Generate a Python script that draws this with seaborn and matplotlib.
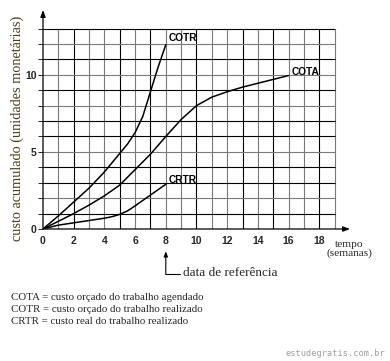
import matplotlib
matplotlib.use("Agg")
import matplotlib.pyplot as plt
import seaborn as sns
import pandas as pd

# ---- data ----
cota_weeks = [0, 1, 2, 3, 4, 5, 6, 7, 8, 9, 10, 11, 12, 13, 14, 15, 16]
cota_cost = [0, 0.5, 1.0, 1.55, 2.15, 2.85, 3.85, 4.85, 6.0, 7.1, 8.0, 8.55, 8.9, 9.2, 9.45, 9.7, 9.95]
cotr_weeks = [0, 1, 2, 3, 4, 5, 5.5, 6, 6.5, 7, 7.5, 8]
cotr_cost = [0, 0.85, 1.75, 2.65, 3.7, 4.9, 5.5, 6.25, 7.3, 8.9, 10.5, 11.95]
crtr_weeks = [0, 1, 2, 3, 4, 4.5, 5, 5.5, 6, 7, 8]
crtr_cost = [0, 0.25, 0.4, 0.55, 0.7, 0.8, 0.95, 1.17, 1.5, 2.2, 2.9]
x_ticks = [0, 2, 4, 6, 8, 10, 12, 14, 16, 18]
y_ticks = [0, 5, 10]
ref_week = 8
legend_lines = ["COTA = custo orçado do trabalho agendado",
                "COTR = custo orçado do trabalho realizado",
                "CRTR = custo real do trabalho realizado"]

df = pd.concat([
    pd.DataFrame({"semana": cota_weeks, "custo": cota_cost, "serie": "COTA"}),
    pd.DataFrame({"semana": cotr_weeks, "custo": cotr_cost, "serie": "COTR"}),
    pd.DataFrame({"semana": crtr_weeks, "custo": crtr_cost, "serie": "CRTR"}),
], ignore_index=True)

sns.set_style("white")
plt.rcParams["font.family"] = ["Liberation Sans", "DejaVu Sans"]

W, H = 390, 361
fig = plt.figure(figsize=(W / 100, H / 100), dpi=100)
# data x 0..20 -> px 43..350 ; data y 0..14.2 -> px 229..10
ax = fig.add_axes([43 / W, (H - 229) / H, 307 / W, 219 / H])
ax.set_xlim(0, 20)
ax.set_ylim(0, 14.2)
for s in ax.spines.values():
    s.set_visible(False)

black_x = {2, 5, 7, 10, 13, 15, 18}
black_y = {1, 3, 4, 6, 7, 9, 11, 13}
for gx in range(1, 20):
    ax.plot([gx, gx], [0, 13], color="black" if gx in black_x else "#7a7a7a",
            lw=0.8, zorder=1, solid_capstyle="butt")
for gy in range(1, 14):
    ax.plot([0, 19], [gy, gy], color="black" if gy in black_y else "#7a7a7a",
            lw=0.8, zorder=1, solid_capstyle="butt")

# axes with arrows
ax.annotate("", xy=(20, 0), xytext=(0, 0),
            arrowprops=dict(arrowstyle="-|>,head_length=0.4,head_width=0.15", color="black", lw=0.9,
                            shrinkA=0, shrinkB=0), annotation_clip=False)
ax.annotate("", xy=(0, 14.2), xytext=(0, 0),
            arrowprops=dict(arrowstyle="-|>,head_length=0.4,head_width=0.15", color="black", lw=0.9,
                            shrinkA=0, shrinkB=0), annotation_clip=False)

sns.lineplot(data=df, x="semana", y="custo", hue="serie", sort=False,
             palette={"COTA": "black", "COTR": "black", "CRTR": "black"},
             linewidth=1.1, legend=False, ax=ax, zorder=3)

ax.set_xlabel("")
ax.set_ylabel("")
ax.set_xticks(x_ticks)
ax.set_xticklabels([str(v) for v in x_ticks], fontsize=7.5, fontweight="bold")
ax.set_yticks(y_ticks)
ax.set_yticklabels([str(v) for v in y_ticks], fontsize=7.5, fontweight="bold")
ax.set_yticks(range(0, 14), minor=True)
ax.tick_params(axis="x", length=0, pad=5)
ax.tick_params(axis="y", which="both", length=3.5, width=0.7, direction="out", pad=1, left=True)

# curve labels
lab_kw = dict(fontsize=7.3, fontweight="bold", color="black", va="center", ha="left")
ax.text(8.2, 12.4, "COTR", **lab_kw)
ax.text(16.2, 10.2, "COTA", **lab_kw)
ax.text(8.2, 3.2, "CRTR", **lab_kw)

serif = ["Liberation Serif", "DejaVu Serif"]
ax.set_ylabel("custo acumulado (unidades monetárias)", family=serif, fontsize=10.3,
              color="#4a3d1a")
ax.yaxis.set_label_coords(-19 / 307, 0.461)

fig.text(349 / W, 1 - 249 / H, "tempo\n(semanas)", family=serif, fontsize=8.2,
         ha="center", va="center", linespacing=0.9)

# reference date arrow
ax.annotate("", xy=(ref_week, -1.45), xytext=(ref_week, -2.95),
            arrowprops=dict(arrowstyle="-|>,head_length=0.3,head_width=0.12", color="black", lw=0.8,
                            shrinkA=0, shrinkB=0), annotation_clip=False)
ax.plot([ref_week, ref_week + 0.95], [-2.95, -2.95], color="black", lw=0.8, clip_on=False)
ax.text(ref_week + 1.1, -2.85, "data de referência", family=serif, fontsize=9.5,
        ha="left", va="center", clip_on=False)

for i, line in enumerate(legend_lines):
    fig.text(11 / W, 1 - (297 + 12 * i) / H, line, family=serif, fontsize=7.8,
             ha="left", va="center")

fig.text(385 / W, 1 - 353 / H, "estudegratis.com.br", family="DejaVu Sans Mono",
         fontsize=6.2, color="#a0a0a0", ha="right", va="center")

fig.savefig("out.png", dpi=100)
